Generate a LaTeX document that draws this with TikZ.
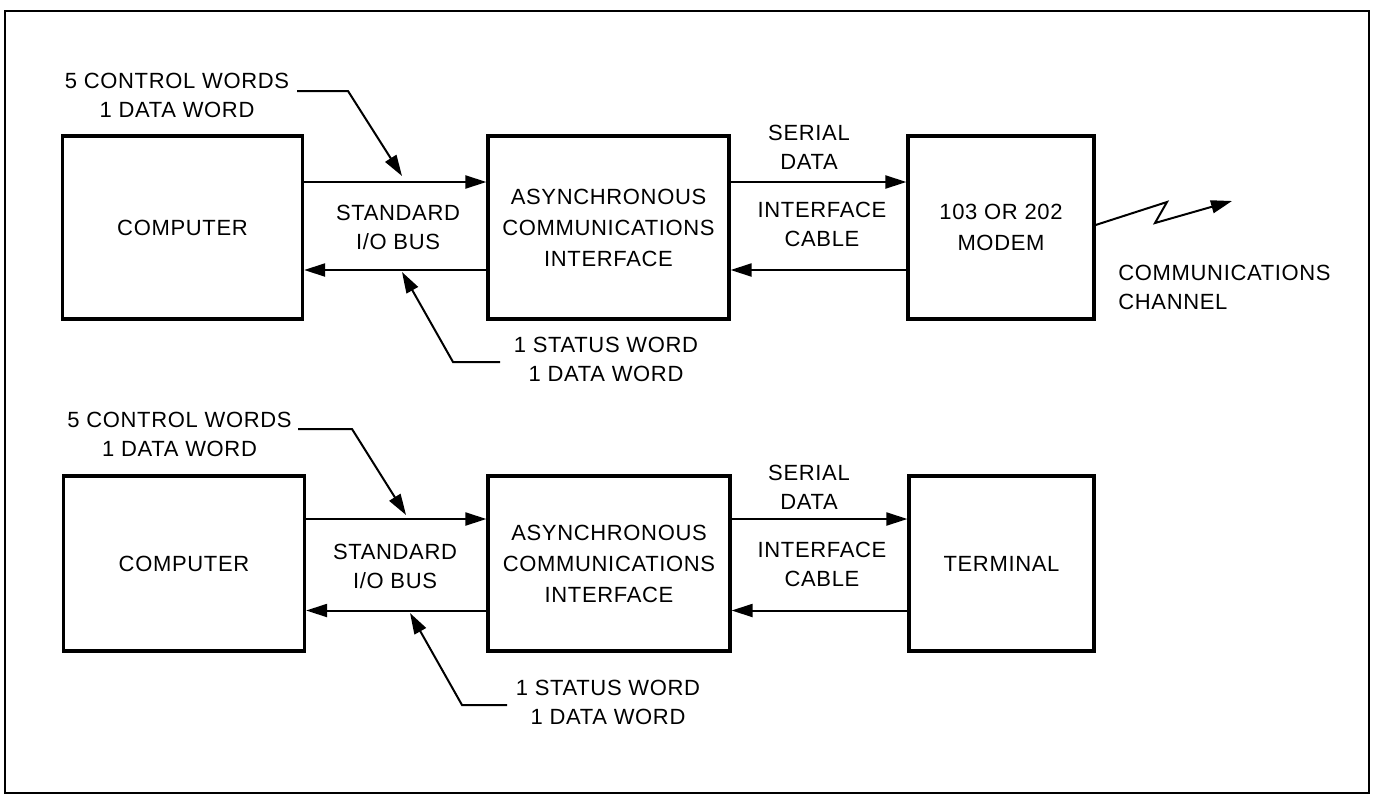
\documentclass[tikz,border=0pt]{standalone}
\usepackage{fontspec}
\setmainfont{Liberation Sans}[LetterSpace=3]
\usetikzlibrary{arrows.meta}
\begin{document}
\begin{tikzpicture}[x=0.5pt,y=-0.5pt,
  lbl/.style={font=\fontsize{11}{14.5}\selectfont, align=center, inner sep=0pt},
  blk/.style={draw, line width=1.6pt, inner sep=0pt, align=center,
              font=\fontsize{11}{15.5}\selectfont},
  bus/.style={line width=1pt, -{Triangle[length=10.5pt,width=6.5pt]}},
  ptr/.style={line width=1pt, -{Triangle[length=10.5pt,width=6.5pt]}},
  frame/.style={line width=1.2pt}]
\useasboundingbox (0,0) rectangle (1376,798);
\draw[frame] (5,11) rectangle (1369,793);

% ---------------- top row ----------------
\node[blk, minimum width=120pt, minimum height=91.5pt] (comp1) at (182.5,227.5) {COMPUTER};
\node[blk, minimum width=120.5pt, minimum height=91.5pt] (aci1) at (608.5,227.5)
  {ASYNCHRONOUS\\COMMUNICATIONS\\INTERFACE};
\node[blk, minimum width=93pt, minimum height=91.5pt] (modem) at (1001,227.5) {103 OR 202\\MODEM};

\draw[bus] ([yshift=22.75pt]comp1.east) -- ([yshift=22.75pt]aci1.west);
\draw[bus] ([yshift=-21.25pt]aci1.west) -- ([yshift=-21.25pt]comp1.east);
\draw[bus] ([yshift=22.75pt]aci1.east) -- ([yshift=22.75pt]modem.west);
\draw[bus] ([yshift=-21.25pt]modem.west) -- ([yshift=-21.25pt]aci1.east);

\node[lbl] (ctl1) at (177,95.5) {5 CONTROL WORDS\\1 DATA WORD};
\node[lbl] (bus1) at (398,227) {STANDARD\\I/O BUS};
\node[lbl] (st1) at (606,359) {1 STATUS WORD\\1 DATA WORD};
\node[lbl] (ser1) at (809,147.5) {SERIAL\\DATA};
\node[lbl] (cab1) at (822,224.5) {INTERFACE\\CABLE};
\node[lbl, align=left, anchor=west] (chan) at (1118,287) {COMMUNICATIONS\\CHANNEL};

\coordinate (c1a) at (297,91);
\coordinate (c1b) at (348,91);
\coordinate (c1t) at (402,176);
\draw[ptr] (c1a) -- (c1b) -- (c1t);
\coordinate (s1a) at (500,362);
\coordinate (s1b) at (453,362);
\coordinate (s1t) at (402,272);
\draw[ptr] (s1a) -- (s1b) -- (s1t);

\coordinate (z1) at (1167,202);
\coordinate (z2) at (1155,223);
\coordinate (zt) at (1232,201);
\draw[line width=1pt, -{Triangle[length=10.5pt,width=6.5pt]}]
  ([yshift=1.25pt]modem.east) -- (z1) -- (z2) -- (zt);

% ---------------- bottom row ----------------
\node[blk, minimum width=120.5pt, minimum height=87.5pt] (comp2) at (184,563.5) {COMPUTER};
\node[blk, minimum width=121pt, minimum height=87.5pt] (aci2) at (609,563.5)
  {ASYNCHRONOUS\\COMMUNICATIONS\\INTERFACE};
\node[blk, minimum width=92.5pt, minimum height=87.5pt] (term) at (1001.5,563.5) {TERMINAL};

\draw[bus] ([yshift=22.25pt]comp2.east) -- ([yshift=22.25pt]aci2.west);
\draw[bus] ([yshift=-23.5pt]aci2.west) -- ([yshift=-23.5pt]comp2.east);
\draw[bus] ([yshift=22.25pt]aci2.east) -- ([yshift=22.25pt]term.west);
\draw[bus] ([yshift=-23.5pt]term.west) -- ([yshift=-23.5pt]aci2.east);

\node[lbl] (ctl2) at (179.5,434.5) {5 CONTROL WORDS\\1 DATA WORD};
\node[lbl] (bus2) at (395,566.5) {STANDARD\\I/O BUS};
\node[lbl] (st2) at (608,702) {1 STATUS WORD\\1 DATA WORD};
\node[lbl] (ser2) at (809,487.5) {SERIAL\\DATA};
\node[lbl] (cab2) at (822,564.5) {INTERFACE\\CABLE};

\coordinate (c2a) at (298,429);
\coordinate (c2b) at (352,429);
\coordinate (c2t) at (406,515);
\draw[ptr] (c2a) -- (c2b) -- (c2t);
\coordinate (s2a) at (507,705);
\coordinate (s2b) at (462,705);
\coordinate (s2t) at (410,613);
\draw[ptr] (s2a) -- (s2b) -- (s2t);
\end{tikzpicture}
\end{document}
